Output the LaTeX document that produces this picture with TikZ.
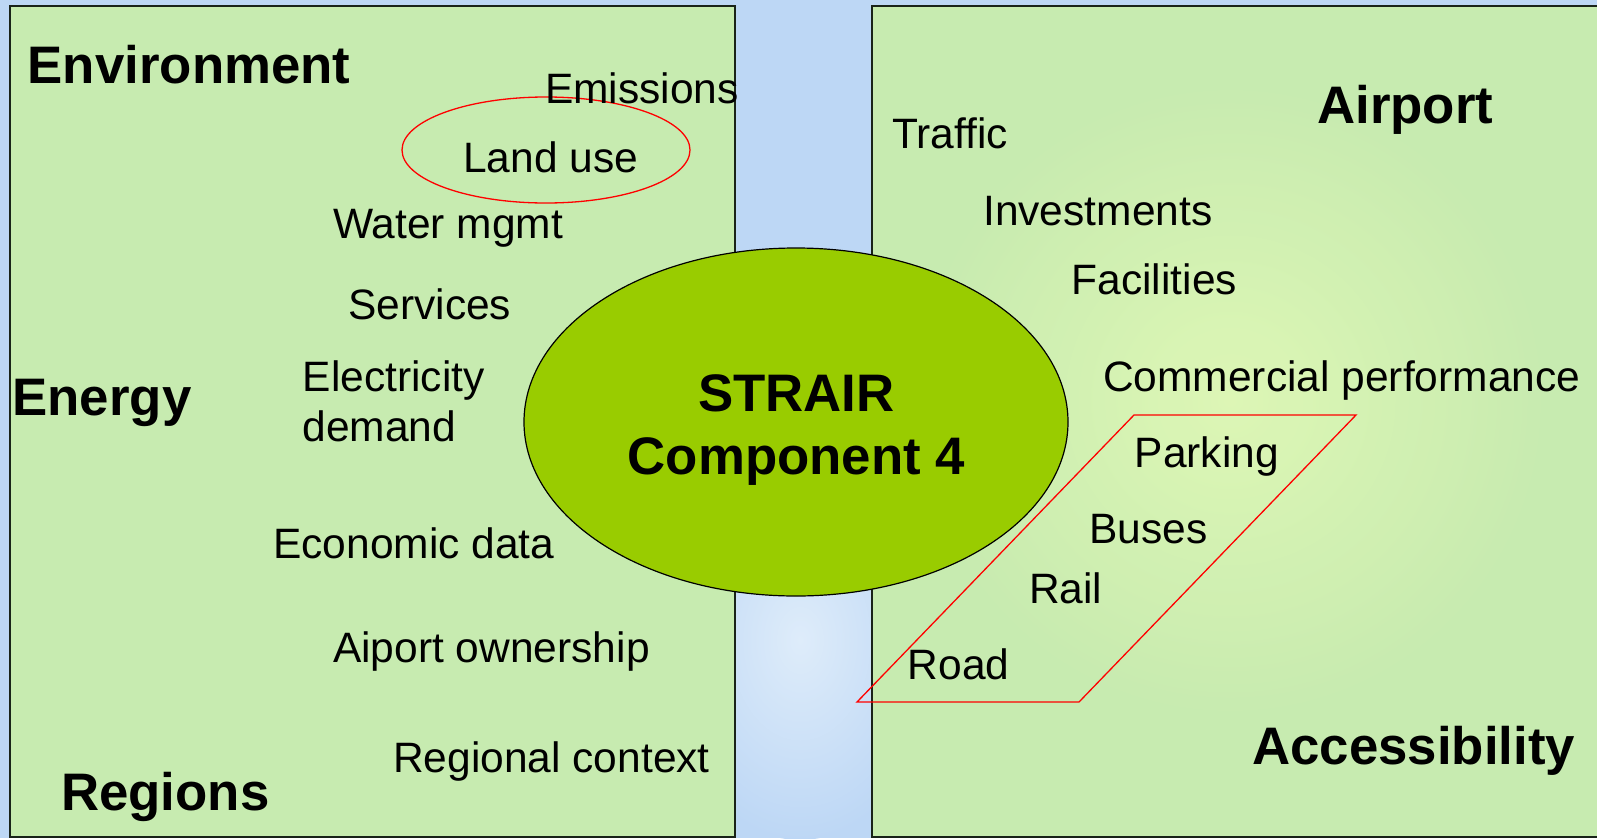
\documentclass[tikz,border=0pt]{standalone}
\usepackage{fontspec}
\setmainfont{Liberation Sans}
\usetikzlibrary{shapes.geometric}
\definecolor{bgblue}{RGB}{189,215,245}
\definecolor{bglight}{RGB}{222,236,250}
\definecolor{boxgreen}{RGB}{199,235,176}
\definecolor{boxlight}{RGB}{224,248,182}
\definecolor{coregreen}{RGB}{153,204,0}
\definecolor{boxline}{RGB}{25,35,25}
\tikzset{
  lbl/.style={font=\fontsize{42.5}{50}\selectfont, anchor=base west, inner sep=0pt},
  head/.style={font=\fontsize{52.8}{62}\selectfont\bfseries, anchor=base west, inner sep=0pt},
  panel/.style={draw=boxline, line width=1.4pt, fill=boxgreen},
  ring/.style={draw=red, line width=1.3pt}
}
\begin{document}
\begin{tikzpicture}[x=1pt,y=-1pt]
\useasboundingbox (0,0) rectangle (1597,838);
% background
\fill[bgblue] (0,0) rectangle (1597,838);
\shade[inner color=bglight, outer color=bgblue] (800,640) ellipse (140 and 200);
% left panel
\draw[panel] (10,6) rectangle (735,837);
% right panel
\draw[panel] (872,6) rectangle (1605,837);
\begin{scope}
  \clip (872.7,6.7) rectangle (1605,836.3);
  \shade[inner color=boxlight, outer color=boxgreen, opacity=0.9] (1230,400) ellipse (330 and 330);
\end{scope}
% red ellipse around Land use
\node[ring, ellipse, minimum width=288pt, minimum height=106pt, inner sep=0pt] (landring) at (546,150) {};
% texts left
\node[head] (env) at (27.5,83.5) {Environment};
\node[lbl] (emis) at (545,103) {Emissions};
\node[lbl] (land) at (463,172) {Land use};
\node[lbl] (water) at (333,238) {Water mgmt};
\node[lbl] (serv) at (348,319) {Services};
\node[lbl, align=left] (elec) at (302.5,441) {Electricity\\demand};
\node[head] (energy) at (12.2,415.5) {Energy};
\node[lbl] (econ) at (273,558) {Economic data};
\node[lbl] (own) at (333,662) {Aiport ownership};
\node[lbl] (regctx) at (393,772) {Regional context};
\node[head] (regions) at (61,810) {Regions};
% core ellipse
\node[draw=black, line width=1.2pt, fill=coregreen, ellipse, minimum width=544pt, minimum height=348pt, inner sep=0pt] (core) at (796,422) {};
\node[font=\fontsize{52.8}{63}\selectfont\bfseries, anchor=base, inner sep=0pt] (strair) at (796.5,411.5) {STRAIR};
\node[font=\fontsize{52.8}{63}\selectfont\bfseries, anchor=base, inner sep=0pt] (comp) at (796.5,474.6) {Component 4};
% texts right
\node[lbl] (traffic) at (892,148.7) {Traffic};
\node[head] (airport) at (1317,123) {Airport};
\node[lbl] (invest) at (983,225) {Investments};
\node[lbl] (facil) at (1071.5,294) {Facilities};
\node[lbl] (comm) at (1103,391) {Commercial performance};
\node[lbl] (parking) at (1134.6,467.5) {Parking};
\node[lbl] (buses) at (1089,543) {Buses};
\node[lbl] (rail) at (1029,603) {Rail};
\node[lbl] (road) at (907.5,679) {Road};
\node[head] (access) at (1252,764) {Accessibility};
% red parallelogram
\coordinate (p1) at (1134,415);
\coordinate (p2) at (1356,415);
\coordinate (p3) at (1079,702);
\coordinate (p4) at (857,702);
\draw[ring] (p1) -- (p2) -- (p3) -- (p4) -- cycle;
\end{tikzpicture}
\end{document}
